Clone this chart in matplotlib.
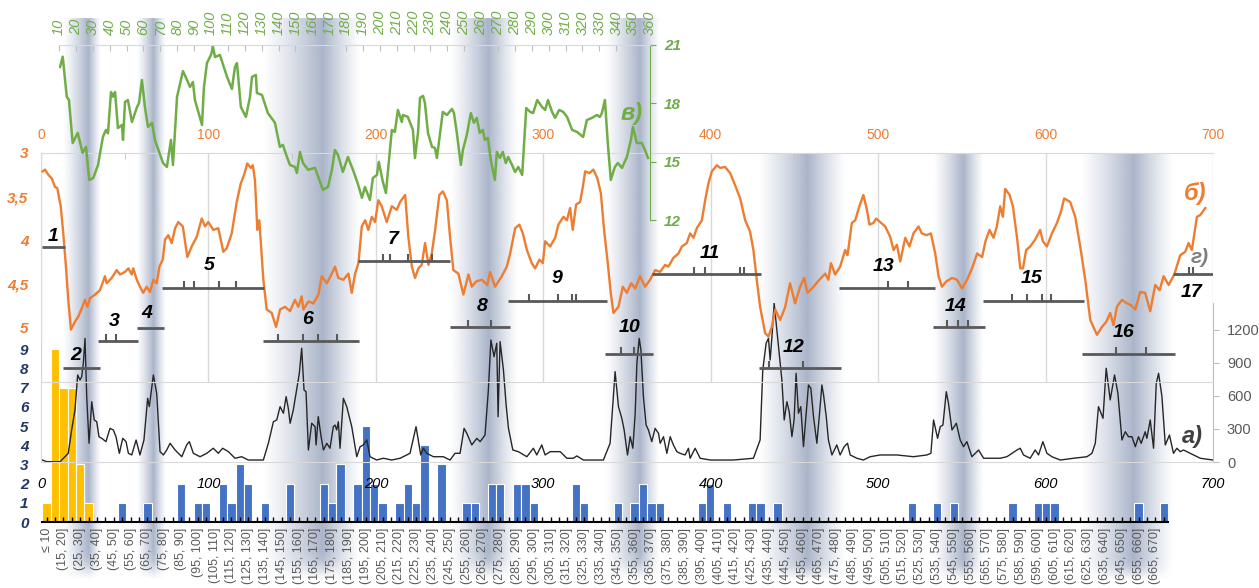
import numpy as np
import matplotlib
matplotlib.use("Agg")
import matplotlib.pyplot as plt
from matplotlib.colors import to_rgb

plt.rcParams['font.family'] = ['Liberation Sans', 'DejaVu Sans']

# ---- в) green series (top axis 10..360, right axis 12..21)
green_x = [10.6, 12.2, 14.6, 15.9, 18.1, 21.1, 24.0, 26.0, 27.9, 30.3, 33.1, 36.0, 37.8, 39.0, 40.8, 42.0,
           43.2, 44.9, 47.3, 47.9, 49.1, 50.8, 53.2, 56.2, 57.4, 59.1, 60.9, 62.7, 65.1, 66.8, 71.6, 73.9,
           76.3, 77.5, 79.9, 83.4, 85.8, 87.6, 89.3, 90.5, 94.7, 95.8, 97.6, 100.0, 101.2, 102.4, 105.3,
           109.5, 112.4, 114.2, 115.4, 117.7, 120.7, 123.1, 124.3, 126.6, 127.2, 130.2, 133.7, 137.9,
           140.8, 142.6, 145.0, 146.8, 149.7, 150.9, 152.7, 154.5, 157.5, 161.6, 166.3, 169.3, 171.6,
           173.4, 175.2, 178.1, 181.1, 184.1, 187.0, 189.4, 191.2, 194.1, 195.9, 198.3, 199.4, 201.8,
           203.6, 207.1, 208.9, 210.7, 213.0, 213.7, 216.6, 219.6, 220.8, 222.6, 223.8, 225.6, 226.7,
           228.5, 230.9, 232.6, 233.8, 237.3, 239.7, 242.7, 243.9, 245.6, 248.0, 249.2, 251.5, 253.9,
           255.7, 257.4, 259.2, 261.0, 262.2, 264.0, 265.7, 268.1, 269.3, 271.1, 272.8, 274.6, 276.0,
           278.3, 280.1, 282.0, 284.3, 286.7, 289.0, 290.8, 293.2, 296.1, 297.9, 299.6, 302.0, 303.8,
           306.2, 308.6, 310.9, 313.9, 316.8, 320.4, 322.6, 325.6, 328.5, 330.3, 331.5, 333.3, 335.0,
           336.8, 339.2, 341.0, 343.4, 346.3, 348.7, 349.9, 352.2, 355.2, 357.0, 358.8]
green_y = [19.87, 20.40, 18.34, 18.17, 15.96, 16.48, 15.45, 15.76, 14.06, 14.16, 14.83, 16.27, 16.63, 16.46,
           18.58, 18.34, 18.58, 16.73, 16.89, 16.12, 18.07, 18.17, 17.04, 17.81, 18.02, 19.20, 17.81,
           16.79, 17.00, 16.12, 14.93, 14.73, 16.12, 14.83, 18.33, 19.66, 19.20, 18.84, 19.10, 18.17,
           16.89, 18.79, 20.07, 20.49, 20.90, 20.38, 20.49, 19.36, 18.74, 19.87, 20.07, 17.81, 17.30,
           18.33, 19.36, 19.46, 18.53, 18.43, 17.50, 17.00, 15.76, 15.86, 15.24, 14.83, 14.73, 14.42,
           15.50, 14.93, 14.58, 14.68, 13.55, 13.70, 14.58, 15.60, 15.35, 14.47, 15.24, 14.58, 13.86,
           13.14, 13.70, 13.03, 14.16, 14.32, 14.99, 13.96, 13.39, 16.63, 16.53, 17.66, 17.04, 17.40,
           17.30, 16.63, 15.19, 16.48, 18.28, 18.38, 18.02, 16.48, 15.76, 15.71, 15.19, 17.56, 17.40,
           17.71, 17.50, 16.48, 14.83, 15.60, 16.37, 17.50, 17.00, 17.25, 16.48, 16.63, 16.12, 16.22,
           15.09, 14.06, 15.50, 15.19, 15.50, 14.93, 15.24, 14.83, 14.47, 14.73, 14.32, 17.76, 17.56,
           17.50, 18.17, 17.81, 17.66, 18.17, 17.56, 17.25, 17.66, 17.56, 17.30, 16.63, 16.53, 16.27,
           17.14, 17.25, 17.40, 17.30, 17.50, 18.17, 15.96, 14.06, 14.73, 14.93, 14.68, 15.24, 16.12,
           16.79, 15.96, 15.96, 15.60, 15.19]

# ---- б) orange series (x 0..700, left axis 3..5 inverted)
orange_x = [1.0, 2.4, 4.4, 6.4, 8.4, 9.7, 11.8, 13.3, 14.9, 16.3, 17.9, 20.3, 22.3, 24.3, 26.3, 27.7, 29.3,
            32.3, 35.2, 38.2, 39.2, 42.2, 45.2, 47.2, 50.2, 52.2, 54.2, 55.1, 57.2, 59.1, 61.1, 63.1, 65.1,
            67.1, 69.1, 70.7, 72.7, 74.1, 76.0, 78.1, 80.1, 82.0, 84.7, 87.4, 90.0, 93.0, 96.0, 98.0, 99.9,
            102.9, 105.9, 108.9, 110.9, 113.9, 116.9, 119.3, 121.3, 123.2, 125.3, 126.5, 127.8, 129.2,
            130.4, 132.8, 134.8, 137.8, 140.4, 142.8, 145.8, 148.7, 151.7, 153.7, 155.7, 156.7, 159.7,
            162.7, 165.7, 167.7, 170.7, 173.7, 175.6, 177.6, 180.6, 183.6, 185.6, 187.6, 189.6, 191.6,
            193.6, 195.5, 197.6, 199.5, 201.5, 203.5, 206.5, 209.5, 212.5, 214.5, 217.5, 219.4, 221.5,
            223.4, 225.4, 227.4, 229.4, 231.4, 233.4, 235.4, 237.9, 240.0, 242.4, 244.3, 246.3, 249.3,
            252.3, 255.3, 257.3, 259.9, 263.3, 266.6, 268.2, 271.2, 275.2, 278.2, 280.2, 283.2, 285.7,
            287.8, 290.2, 293.1, 295.1, 297.7, 299.7, 301.1, 304.1, 307.1, 309.0, 312.0, 314.1, 316.0,
            317.6, 319.6, 322.0, 323.6, 325.0, 327.6, 329.9, 332.3, 334.4, 336.3, 338.3, 340.3, 341.9,
            344.9, 347.5, 349.9, 352.5, 354.9, 357.8, 360.8, 363.8, 366.8, 369.8, 372.8, 374.7, 377.7,
            380.7, 382.8, 385.7, 387.7, 389.7, 391.7, 394.7, 396.7, 398.6, 400.7, 403.7, 405.6, 408.6,
            411.6, 414.6, 417.6, 420.6, 423.5, 425.5, 427.5, 429.5, 432.5, 434.5, 436.5, 438.5, 441.5,
            444.5, 447.4, 450.4, 453.4, 455.8, 457.8, 461.4, 464.9, 468.4, 470.3, 471.8, 474.3, 477.3,
            480.3, 481.7, 484.3, 486.3, 488.8, 491.2, 493.3, 494.8, 497.2, 498.8, 501.2, 504.2, 507.2,
            509.2, 511.2, 513.2, 516.2, 518.7, 521.1, 524.1, 526.1, 529.1, 531.5, 534.1, 536.1, 538.1,
            540.7, 544.1, 547.1, 550.1, 553.1, 556.1, 559.1, 562.1, 564.1, 566.5, 568.9, 570.9, 572.9,
            574.5, 575.9, 578.5, 580.5, 582.9, 584.9, 586.5, 588.4, 590.8, 593.8, 596.8, 598.4, 600.8,
            603.8, 606.8, 609.2, 611.1, 614.7, 617.7, 620.7, 623.7, 626.7, 630.7, 633.7, 636.3, 638.6,
            640.6, 642.6, 645.6, 648.6, 651.0, 653.6, 656.5, 659.5, 662.5, 665.5, 668.1, 670.5, 673.5,
            676.9, 680.4, 683.4, 685.4, 687.4, 690.4, 692.4, 695.4]
orange_y = [3.21, 3.19, 3.25, 3.29, 3.39, 3.40, 3.61, 3.92, 4.30, 4.68, 5.02, 4.93, 4.87, 4.78, 4.68, 4.76,
            4.66, 4.62, 4.57, 4.41, 4.49, 4.43, 4.34, 4.39, 4.36, 4.32, 4.39, 4.32, 4.45, 4.53, 4.60, 4.53,
            4.59, 4.45, 4.49, 4.30, 4.22, 3.99, 3.94, 4.03, 3.86, 3.79, 3.84, 4.19, 4.07, 3.96, 3.75, 3.84,
            3.79, 3.88, 3.86, 4.13, 4.09, 3.92, 3.56, 3.35, 3.25, 3.12, 3.17, 3.14, 3.31, 3.88, 3.77, 4.45,
            4.79, 4.83, 4.99, 4.79, 4.76, 4.81, 4.68, 4.76, 4.64, 4.79, 4.70, 4.72, 4.62, 4.41, 4.49, 4.38,
            4.30, 4.43, 4.45, 4.38, 4.60, 4.38, 4.26, 3.84, 3.77, 3.88, 3.73, 3.79, 3.54, 3.61, 3.79, 3.61,
            3.65, 3.56, 3.48, 3.96, 4.30, 4.43, 4.32, 4.28, 4.03, 4.28, 4.15, 3.88, 3.48, 3.44, 3.54, 3.96,
            4.34, 4.38, 4.62, 4.39, 4.53, 4.47, 4.45, 4.51, 4.36, 4.53, 4.41, 4.30, 4.15, 3.86, 3.82, 3.92,
            4.11, 4.26, 4.32, 4.22, 4.26, 4.01, 4.07, 3.97, 3.82, 3.73, 3.77, 3.63, 3.88, 3.59, 3.56, 3.39,
            3.21, 3.23, 3.19, 3.29, 3.46, 3.88, 4.22, 4.60, 4.83, 4.76, 4.53, 4.60, 4.49, 4.55, 4.41, 4.53,
            4.45, 4.34, 4.36, 4.28, 4.30, 4.20, 4.15, 4.07, 4.03, 3.92, 3.97, 3.86, 3.77, 3.54, 3.35, 3.21,
            3.14, 3.17, 3.16, 3.23, 3.37, 3.52, 3.77, 3.90, 4.11, 4.45, 4.76, 5.06, 5.10, 4.99, 4.79, 4.91,
            4.76, 4.49, 4.72, 4.53, 4.43, 4.60, 4.53, 4.45, 4.38, 4.45, 4.26, 4.39, 4.30, 4.11, 4.17, 3.80,
            3.77, 3.61, 3.48, 3.65, 3.82, 3.80, 3.75, 3.79, 3.84, 3.96, 4.11, 4.05, 4.24, 3.97, 4.07, 3.92,
            3.84, 3.92, 3.94, 3.92, 4.15, 4.41, 4.53, 4.47, 4.43, 4.45, 4.55, 4.45, 4.32, 4.15, 4.19, 4.01,
            3.88, 3.97, 3.84, 3.61, 3.73, 3.41, 3.48, 3.61, 3.96, 4.32, 4.32, 4.11, 4.07, 3.99, 3.88, 4.01,
            4.07, 3.92, 3.80, 3.67, 3.52, 3.56, 3.73, 4.07, 4.45, 4.91, 5.08, 4.99, 4.93, 4.83, 4.97, 4.76,
            4.68, 4.72, 4.74, 4.79, 4.59, 4.60, 4.81, 4.51, 4.57, 4.41, 4.51, 4.39, 4.17, 4.13, 4.03, 4.11,
            3.73, 3.71, 3.63]

# ---- а) black series (x 0..700, right axis 0..1200)
black_x = [0.8, 3.4, 11.4, 14.3, 16.3, 18.3, 20.3, 21.9, 23.3, 24.3, 25.3, 26.3, 27.3, 28.7, 30.3, 31.8,
           33.3, 34.6, 36.3, 38.8, 41.2, 43.2, 44.8, 46.8, 48.8, 50.8, 52.2, 54.2, 56.8, 59.1, 61.5, 63.7,
           64.7, 67.1, 69.1, 71.1, 73.1, 75.1, 77.1, 80.1, 84.1, 87.0, 88.6, 91.0, 95.0, 99.0, 102.9,
           105.9, 108.5, 111.9, 115.9, 119.9, 123.8, 132.8, 135.8, 138.8, 140.8, 142.8, 144.8, 146.4,
           147.7, 148.8, 150.7, 152.8, 154.3, 155.7, 157.1, 158.3, 159.7, 161.7, 163.7, 164.3, 165.6,
           167.3, 168.7, 170.7, 172.6, 174.6, 175.6, 176.6, 177.6, 178.6, 180.6, 182.6, 185.6, 188.6,
           190.6, 192.5, 194.6, 196.5, 200.5, 204.5, 209.5, 214.5, 220.4, 224.0, 226.8, 228.4, 230.4,
           234.4, 240.3, 244.3, 247.3, 250.3, 252.7, 254.3, 257.3, 260.3, 262.3, 265.2, 267.2, 268.7,
           270.6, 272.2, 273.0, 274.2, 276.2, 277.8, 279.2, 281.8, 285.1, 290.2, 294.1, 296.1, 299.1,
           301.1, 304.1, 307.1, 310.1, 314.1, 318.0, 320.0, 324.0, 335.9, 339.9, 342.9, 344.9, 346.9,
           348.3, 350.3, 351.9, 353.5, 354.9, 355.9, 357.3, 358.3, 359.8, 361.4, 362.8, 364.8, 366.8,
           368.8, 369.8, 371.8, 373.8, 375.8, 377.7, 379.8, 381.7, 384.7, 386.7, 387.7, 390.7, 393.7,
           399.7, 413.6, 425.5, 429.5, 431.1, 433.1, 434.5, 435.5, 436.5, 437.9, 439.5, 441.1, 442.5,
           443.9, 445.5, 446.9, 448.5, 449.8, 451.0, 452.4, 453.8, 455.4, 457.0, 458.4, 459.8, 461.4,
           463.4, 465.0, 466.4, 467.4, 469.0, 470.3, 472.4, 475.3, 477.3, 479.7, 481.7, 483.3, 487.3,
           491.2, 495.2, 501.2, 511.2, 521.1, 529.1, 531.5, 533.1, 535.5, 537.1, 538.7, 540.7, 542.0,
           544.1, 546.7, 549.0, 551.0, 553.0, 556.0, 560.0, 563.0, 572.9, 576.9, 582.9, 584.9, 586.8,
           590.8, 593.8, 595.8, 598.4, 600.8, 603.8, 608.8, 616.7, 624.7, 627.7, 629.7, 631.6, 634.3,
           636.2, 638.6, 641.2, 643.2, 645.6, 647.6, 649.5, 651.6, 653.6, 655.5, 657.1, 659.5, 660.5,
           662.5, 664.5, 666.1, 667.5, 669.5, 671.5, 674.0, 676.4, 678.4, 680.4, 682.4, 686.4, 692.4,
           700.0]
black_y = [18, 3, 3, 48, 79, 291, 473, 791, 745, 775, 897, 1124, 594, 170, 548, 382, 366, 230, 215, 185,
           306, 291, 230, 79, 215, 185, 79, 64, 200, 64, 200, 579, 503, 791, 624, 94, 64, 109, 170, 109,
           48, 155, 185, 79, 48, 79, 125, 79, 125, 94, 34, 48, 18, 18, 170, 366, 382, 503, 443, 594, 488,
           352, 473, 670, 806, 1034, 654, 639, 109, 352, 321, 155, 412, 230, 109, 170, 125, 321, 336, 291,
           366, 125, 579, 503, 321, 48, 139, 155, 200, 48, 18, 34, 18, 34, 79, 321, 64, 125, 79, 48, 48,
           18, 79, 79, 306, 261, 155, 215, 185, 245, 654, 1109, 957, 1079, 412, 1094, 836, 518, 306, 109,
           94, 48, 125, 64, 155, 64, 94, 94, 94, 34, 34, 55, 18, 18, 170, 821, 503, 397, 291, 64, 230,
           125, 443, 897, 1124, 1018, 594, 336, 291, 185, 306, 261, 170, 230, 79, 230, 155, 94, 79, 64,
           125, 34, 125, 34, 18, 18, 34, 200, 836, 1079, 1124, 927, 1124, 1443, 1200, 957, 745, 382, 548,
           457, 230, 382, 806, 443, 503, 139, 443, 700, 670, 412, 170, 443, 700, 609, 412, 200, 64, 155,
           64, 139, 170, 64, 34, 18, 48, 64, 64, 48, 64, 79, 382, 215, 321, 336, 639, 534, 291, 352, 200,
           139, 185, 48, 109, 34, 34, 48, 109, 125, 64, 34, 109, 64, 185, 79, 48, 18, 34, 48, 79, 170,
           503, 397, 852, 564, 791, 624, 200, 275, 230, 230, 139, 230, 170, 275, 215, 382, 125, 715, 806,
           594, 155, 245, 79, 125, 94, 109, 79, 34, 18]

# ---- histogram (bins of 5: "≤ 10", (10, 15], ... (670, 675]); first n_yellow bins in yellow
hist_counts = [1, 9, 7, 7, 3, 1, 0, 0, 0, 1,
               0, 0, 1, 0, 0, 0, 2, 0, 1, 1,
               0, 2, 1, 3, 2, 0, 1, 0, 0, 2,
               0, 0, 0, 2, 1, 3, 0, 2, 5, 2,
               1, 0, 1, 2, 1, 4, 0, 3, 0, 0,
               1, 1, 0, 2, 2, 0, 2, 2, 1, 0,
               0, 0, 0, 2, 1, 0, 0, 0, 1, 0,
               1, 2, 1, 1, 0, 0, 0, 0, 1, 2,
               0, 1, 0, 0, 1, 1, 0, 1, 0, 0,
               0, 0, 0, 0, 0, 0, 0, 0, 0, 0,
               0, 0, 0, 1, 0, 0, 1, 0, 1, 0,
               0, 0, 0, 0, 0, 1, 0, 0, 1, 1,
               1, 0, 0, 0, 0, 0, 0, 0, 0, 0,
               1, 0, 0, 1]
n_yellow = 6
hist_cats = ['≤ 10'] + [f'({5 + 5 * i}, {10 + 5 * i}]' for i in range(1, len(hist_counts))]

# ---- numbered segments (orange data units)
seg_names = ['1', '2', '3', '4', '5', '6', '7', '8', '9', '10', '11', '12', '13', '14', '15', '16', '17']
seg_x0 = [0.4, 13.3, 34.2, 57.5, 72.5, 132.4, 189.2, 244.3, 279.2, 336.9, 365.2, 429.1, 476.9, 533.0,
          562.9, 621.7, 676.4]
seg_x1 = [14.3, 35.2, 58.1, 73.5, 133.4, 190.2, 244.3, 280.2, 337.9, 365.8, 429.9, 477.7, 534.1, 563.9,
          622.7, 677.5, 700.9]
seg_y = [4.08, 5.46, 5.15, 5.00, 4.54, 5.15, 4.23, 4.99, 4.69, 5.30, 4.38, 5.46, 4.54, 4.99, 4.69, 5.30, 4.38]
seg_ticks = [[], [], [38.8, 44.6], [], [85.6, 91.6, 106.5, 116.5], [141.4, 156.7, 165.6, 176.6],
             [204.5, 208.5, 219.4, 233.4], [254.9, 268.6], [291.5, 308.6, 317.4, 319.6], [346.3, 354.3],
             [390.3, 396.7, 417.6, 420.1], [435.1, 455.4], [505.6, 517.6], [541.4, 547.4, 553.4],
             [580.2, 589.2, 598.1, 603.4], [642.2, 659.9], [685.4, 687.8]]
seg_lx = [7.4, 20.9, 43.8, 63.1, 100.5, 159.1, 210.5, 263.3, 308.1, 351.4, 399.7, 449.4, 503.2, 546.0,
          591.8, 646.5, 687.4]
seg_ly = [3.96, 5.32, 4.93, 4.84, 4.29, 4.91, 3.99, 4.76, 4.44, 5.00, 4.15, 5.22, 4.30, 4.76, 4.44, 5.05, 4.60]

# ---- shaded periods (orange x units): start, darkest, end
band_x0 = [13.1, 57.3, 132.0, 244.3, 337.0, 428.3, 532.9, 620.7]
band_xp = [28.0, 66.9, 168.0, 267.0, 357.8, 457.6, 550.8, 652.4]
band_x1 = [35.2, 74.1, 190.6, 284.4, 369.8, 480.3, 562.8, 676.3]
band_long = [True, True, True, True, True, False, False, False]

GREEN = '#70AD47'
ORANGE = '#ED7D31'
BLUE = '#4472C4'
YELLOW = '#FFC000'
NAVY = '#1F3864'
GRID = '#D9D9D9'
SEG = '#595959'

W, H = 1259, 588


def rect(x0, y0, x1, y1):
    return [x0 / W, 1 - y1 / H, (x1 - x0) / W, (y1 - y0) / H]


fig = plt.figure(figsize=(W / 100, H / 100), dpi=100)

# background bands
ax_bg = fig.add_axes(rect(41, 0, 1213, H))
band_rgb = to_rgb('#8E9CB8')
for x0, xp, x1, long_ in zip(band_x0, band_xp, band_x1, band_long):
    xs = np.linspace(x0, x1, 300)
    a = np.where(xs < xp, (xs - x0) / (xp - x0), (x1 - xs) / (x1 - xp))
    a = np.clip(a, 0, 1) ** 1.2
    rows = np.linspace(0, 1, 60)
    v = np.clip((1 - rows) / 0.04, 0, 1)[:, None]
    img = np.zeros((60, 300, 4))
    img[..., :3] = band_rgb
    img[..., 3] = 0.75 * a[None, :] * v
    top = 18 if long_ else 153
    ax_bg.imshow(img, extent=(x0, x1, 584, top), aspect='auto', interpolation='bilinear', origin='upper')
ax_bg.set_xlim(0, 700)
ax_bg.set_ylim(H, 0)
ax_bg.axis('off')

# histogram
ax_h = fig.add_axes(rect(42.3, 330, 1168, 522))
ax_h.set_facecolor('none')
pos = np.arange(len(hist_counts))
colors = [YELLOW if i < n_yellow else BLUE for i in pos]
ax_h.bar(pos, hist_counts, width=1.0, color=colors, edgecolor='white', linewidth=0.8)
ax_h.set_xlim(-0.5, len(hist_counts) - 0.5)
ax_h.set_ylim(0, 10)
ax_h.set_xticks(pos, [c if i % 2 == 0 else '' for i, c in enumerate(hist_cats)],
                rotation=90, color='#595959', fontsize=9)
ax_h.tick_params(axis='x', direction='in', length=3.5, width=1, color='black', pad=4)
ax_h.set_yticks(range(10))
ax_h.set_yticklabels([str(i) for i in range(10)], color=NAVY, fontweight='bold', fontstyle='italic',
                     fontsize=11)
ax_h.tick_params(axis='y', length=0, pad=10)
for s in ['top', 'right', 'left']:
    ax_h.spines[s].set_visible(False)
ax_h.spines['bottom'].set_color('black')
ax_h.spines['bottom'].set_linewidth(1.5)

# black series
ax_b = fig.add_axes(rect(41, 303, 1213, 462))
ax_b.set_facecolor('none')
ax_b.plot(black_x, black_y, color='#262626', lw=1.0)
ax_b.set_xlim(0, 700)
ax_b.set_ylim(0, 1445)
ax_b.set_xticks(range(0, 701, 100), [str(v) for v in range(0, 701, 100)], fontstyle='italic', fontsize=10.5)
ax_b.tick_params(axis='x', length=0, pad=11)
ax_b.yaxis.tick_right()
ax_b.set_yticks(range(0, 1201, 300))
ax_b.tick_params(axis='y', length=4, color='#BFBFBF', labelcolor='#595959', labelsize=10.5, pad=6)
ax_b.spines['top'].set_visible(False)
ax_b.spines['right'].set_color('#BFBFBF')
ax_b.spines['bottom'].set_color(GRID)
ax_b.spines['left'].set_color(GRID)
ax_b.spines['left'].set_bounds(0, 727)
ax_b.text(687.4, 230, 'а)', fontsize=17, fontstyle='italic', fontweight='bold', color='#404040',
          ha='center', va='center')

# orange series
ax_o = fig.add_axes(rect(41, 153, 1213, 382))
ax_o.set_facecolor('none')
ax_o.set_axisbelow(True)
ax_o.grid(axis='x', color=GRID, lw=1)
ax_o.plot(orange_x, orange_y, color=ORANGE, lw=1.7, zorder=4)
ax_o.set_xlim(0, 700)
ax_o.set_ylim(5.62, 3)
ax_o.xaxis.tick_top()
ax_o.set_xticks(range(0, 701, 100), [str(v) for v in range(0, 701, 100)], color=ORANGE, fontsize=10)
ax_o.set_xticks(range(50, 700, 100), minor=True)
ax_o.tick_params(axis='x', which='major', length=0, pad=8)
ax_o.tick_params(axis='x', which='minor', direction='in', length=4, color='#BFBFBF')
ax_o.set_yticks([3, 3.5, 4, 4.5, 5], ['3', '3,5', '4', '4,5', '5'], color=ORANGE, fontweight='bold',
               fontstyle='italic', fontsize=11)
ax_o.tick_params(axis='y', length=0, pad=9)
ax_o.spines['right'].set_visible(False)
for s in ['top', 'bottom', 'left']:
    ax_o.spines[s].set_color(GRID)
ax_o.spines['left'].set_bounds(3, 5.1)
for x0, x1, y, tks in zip(seg_x0, seg_x1, seg_y, seg_ticks):
    ax_o.hlines(y, x0, x1, color=SEG, lw=2, zorder=5)
    if tks:
        ax_o.vlines(tks, y - 0.08, y, color=SEG, lw=1.5, zorder=5)
for name, lx, ly in zip(seg_names, seg_lx, seg_ly):
    ax_o.text(lx, ly, name, fontsize=14, fontweight='bold', fontstyle='italic', color='black',
              ha='center', va='center', zorder=6)
ax_o.text(689.4, 3.46, 'б)', fontsize=17, fontstyle='italic', fontweight='bold', color=ORANGE,
          ha='center', va='center')
ax_o.text(692.3, 4.20, 'г)', fontsize=15, fontstyle='italic', fontweight='bold', color='#7F7F7F',
          ha='center', va='center')

# green series
ax_g = fig.add_axes(rect(59, 45, 650, 220))
ax_g.set_facecolor('none')
ax_g.plot(green_x, green_y, color=GREEN, lw=1.8)
ax_g.set_xlim(10, 360)
ax_g.set_ylim(12, 21)
ax_g.xaxis.tick_top()
ax_g.set_xticks(range(10, 361, 10), [str(v) for v in range(10, 361, 10)], rotation=90, color=GREEN,
                fontstyle='italic', fontsize=10.5)
ax_g.tick_params(axis='x', direction='in', length=4, color='#BFBFBF', pad=7)
ax_g.yaxis.tick_right()
ax_g.set_yticks([12, 15, 18, 21], ['12', '15', '18', '21'], color=GREEN, fontweight='bold',
                fontstyle='italic', fontsize=11)
ax_g.tick_params(axis='y', length=4, color=GREEN, pad=6)
ax_g.spines['left'].set_visible(False)
ax_g.spines['bottom'].set_visible(False)
ax_g.spines['top'].set_color(GRID)
ax_g.spines['right'].set_color(GREEN)
ax_g.text(349.0, 17.49, 'в)', fontsize=17, fontstyle='italic', fontweight='bold', color=GREEN,
          ha='center', va='center')

fig.savefig('out.png', dpi=100)
